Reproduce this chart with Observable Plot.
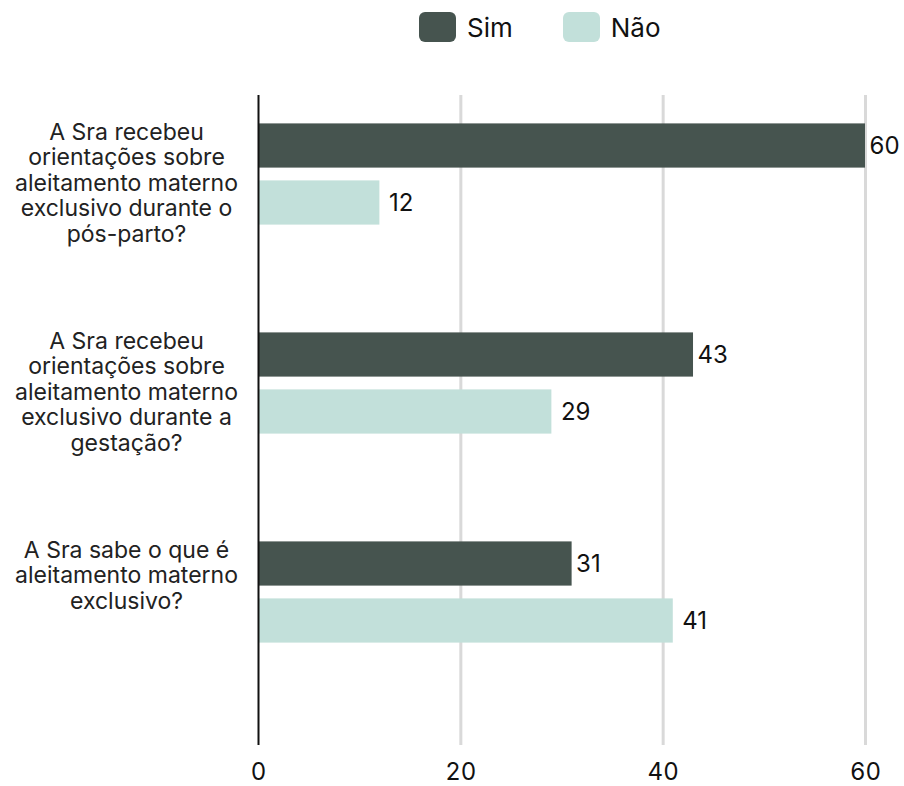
<!DOCTYPE html>
<html>
<head>
<meta charset="utf-8">
<script src="https://cdn.jsdelivr.net/npm/d3@7"></script>
<script src="https://cdn.jsdelivr.net/npm/@observablehq/plot@0.6"></script>
<style>
  body { margin: 0; background: #fff; font-family: Inter, "Liberation Sans", sans-serif; }
  #legend { display: flex; align-items: center; height: 54px; padding-left: 419px; box-sizing: border-box; }
  .item { display: flex; align-items: center; font-size: 26px; color: #111; }
  .item + .item { margin-left: 50px; }
  .sw { width: 37px; height: 30px; border-radius: 6px; margin-right: 11px; }
  svg { display: block; }
</style>
</head>
<body>
<div id="legend"></div>
<div id="chart"></div>
<script>
const questions = ["Q1", "Q2", "Q3"];
const questionLabels = [
  "A Sra recebeu\norientações sobre\naleitamento materno\nexclusivo durante o\npós-parto?",
  "A Sra recebeu\norientações sobre\naleitamento materno\nexclusivo durante a\ngestação?",
  "A Sra sabe o que é\naleitamento materno\nexclusivo?"
];
const answers = ["Sim", "Não"];
const simValues = [60, 43, 31];
const naoValues = [12, 29, 41];
const xTicks = [0, 20, 40, 60];
const colors = { "Sim": "#46544f", "Não": "#c2e0da" };

const simRows = questions.map((q, i) => ({ q, answer: "Sim", value: simValues[i] }));
const naoRows = questions.map((q, i) => ({ q, answer: "Não", value: naoValues[i] }));
const labelRows = questions.map((q, i) => ({ q, label: questionLabels[i] }));

const legend = document.getElementById("legend");
answers.forEach(a => {
  const it = document.createElement("div");
  it.className = "item";
  it.innerHTML = `<span class="sw" style="background:${colors[a]}"></span><span>${a}</span>`;
  legend.appendChild(it);
});

const chart = Plot.plot({
  width: 904,
  height: 732,
  marginLeft: 258,
  marginRight: 39,
  marginTop: 41,
  marginBottom: 41,
  style: { fontFamily: "Inter, 'Liberation Sans', sans-serif", color: "#111" },
  x: { domain: [0, 60] },
  y: { domain: questions, axis: null, paddingInner: 0.28, paddingOuter: 0.191, align: 0.05 },
  marks: [
    Plot.ruleX(xTicks.filter(d => d > 0), { stroke: "#d9d9d9", strokeWidth: 3 }),
    Plot.barX(simRows, { x: "value", y: "q", fill: colors["Sim"], insetTop: 24.4, insetBottom: 81.4 }),
    Plot.barX(naoRows, { x: "value", y: "q", fill: colors["Não"], insetTop: 81.4, insetBottom: 24.4 }),
    Plot.ruleX([0], { stroke: "#111", strokeWidth: 2 }),
    Plot.text(simRows, { x: "value", y: "q", text: d => String(d.value), dy: -28.5, dx: 4, textAnchor: "start", fontSize: 24, fill: "#111" }),
    Plot.text(naoRows, { x: "value", y: "q", text: d => String(d.value), dy: 28.5, dx: 9, textAnchor: "start", fontSize: 24, fill: "#111" }),
    Plot.text(labelRows, { y: "q", text: "label", frameAnchor: "left", dx: -132, dy: -53, lineAnchor: "top", textAnchor: "middle", lineHeight: 1.11, fontSize: 23, fill: "#222" }),
    Plot.axisX({ ticks: xTicks, tickSize: 0, tickPadding: 17, fontSize: 24, label: null, tickFormat: d => String(d) })
  ]
});
document.getElementById("chart").appendChild(chart);
</script>
</body>
</html>
